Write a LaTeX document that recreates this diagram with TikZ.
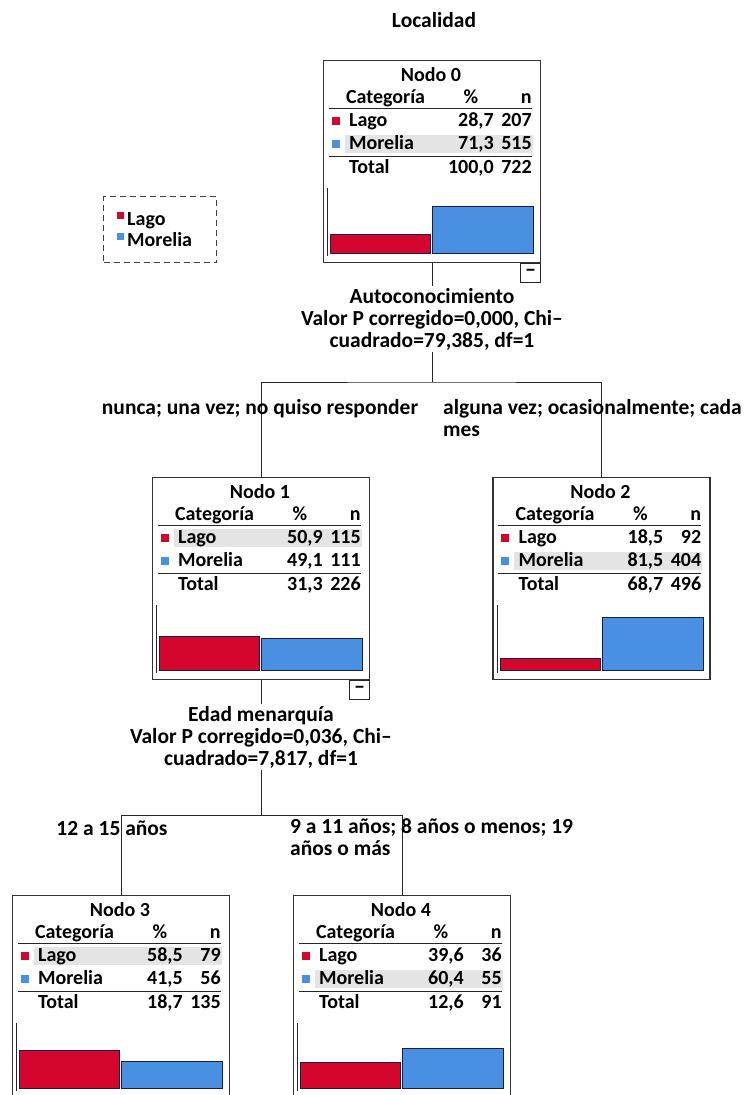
\documentclass[tikz,border=0pt]{standalone}
\usepackage{fontspec}
\setmainfont{Carlito}
\usetikzlibrary{positioning}

\definecolor{lagored}{RGB}{212,6,46}
\definecolor{moreliablue}{RGB}{74,144,226}
\definecolor{rowgrey}{RGB}{228,228,228}
\definecolor{barline}{RGB}{28,30,58}

% one tree node: name, top centre, number, Lago %, n, Morelia %, n, Total %, n
\newcommand{\treenode}[9]{%
  \node[treebox, anchor=north] (#1) at #2 {};
  \pgfmathsetmacro\hly{#4>#6 ? 52 : 75}
  \fill[rowgrey] ([shift={(22,\hly)}]#1.north west) rectangle ([shift={(210,{\hly+18})}]#1.north west);
  \node[celltext] (#1-title) at ([shift={(108,15)}]#1.north west) {Nodo #3};
  \node[celltext, anchor=base west] (#1-cat) at ([shift={(23,43)}]#1.north west) {Categoría};
  \node[celltext, anchor=base] (#1-pct) at ([shift={(148,43)}]#1.north west) {\%};
  \node[celltext, anchor=base east] (#1-n) at ([shift={(209,43)}]#1.north west) {n};
  \draw[tablerule] ([shift={(6,48)}]#1.north west) -- ([shift={(209,48)}]#1.north west);
  \fill[lagored] ([shift={(9,57)}]#1.north west) rectangle ++(8,8);
  \node[celltext, anchor=base west] (#1-lago) at ([shift={(26,66)}]#1.north west) {Lago};
  \node[celltext, anchor=base east] (#1-lagop) at ([shift={(171,66)}]#1.north west) {\pct{#4}};
  \node[celltext, anchor=base east] (#1-lagon) at ([shift={(209,66)}]#1.north west) {#5};
  \fill[moreliablue] ([shift={(9,80)}]#1.north west) rectangle ++(8,8);
  \node[celltext, anchor=base west] (#1-mor) at ([shift={(26,89)}]#1.north west) {Morelia};
  \node[celltext, anchor=base east] (#1-morp) at ([shift={(171,89)}]#1.north west) {\pct{#6}};
  \node[celltext, anchor=base east] (#1-morn) at ([shift={(209,89)}]#1.north west) {#7};
  \draw[tablerule] ([shift={(6,96)}]#1.north west) -- ([shift={(209,96)}]#1.north west);
  \node[celltext, anchor=base west] (#1-tot) at ([shift={(26,113)}]#1.north west) {Total};
  \node[celltext, anchor=base east] (#1-totp) at ([shift={(171,113)}]#1.north west) {\pct{#8}};
  \node[celltext, anchor=base east] (#1-totn) at ([shift={(209,113)}]#1.north west) {#9};
  % bar chart
  \draw[chartaxis] ([shift={(5,128)}]#1.north west) -- ([shift={(5,196)}]#1.north west);
  \filldraw[barbox, fill=lagored] ([shift={(8,{193-0.65*#4})}]#1.north west) rectangle ([shift={(108,193)}]#1.north west);
  \filldraw[barbox, fill=moreliablue] ([shift={(110,{193-0.65*#6})}]#1.north west) rectangle ([shift={(211,193)}]#1.north west);
}
\newcommand{\pct}[1]{\pgfmathprintnumber[fixed,precision=1,fixed zerofill,use comma,assume math mode=true]{#1}}

\tikzset{
  treebox/.style={draw=black!80, line width=1.2pt, minimum width=217pt, minimum height=202pt, inner sep=0pt},
  celltext/.style={font=\fontsize{20}{22}\selectfont\bfseries, inner sep=0pt},
  splittext/.style={font=\fontsize{21.5}{22}\selectfont\bfseries, align=center, inner sep=2pt},
  tablerule/.style={draw=black!85, line width=1pt},
  chartaxis/.style={draw=black!85, line width=1pt},
  barbox/.style={draw=barline, line width=0.9pt},
  branch/.style={draw=black!85, line width=1pt},
  collapse/.style={draw=black!85, line width=1pt, minimum width=20pt, minimum height=19pt, inner sep=0pt, font=\fontsize{22}{22}\selectfont\bfseries},
  legendbox/.style={draw=black!75, line width=1.2pt, dash pattern=on 6pt off 4pt, minimum width=113pt, minimum height=66pt, inner sep=0pt}
}

\begin{document}
\begin{tikzpicture}[x=1pt, y=-1pt]
  \useasboundingbox (0,0) rectangle (753,1095);
  \clip (0,0) rectangle (753,1095);

  % Title
  \node[splittext] (title) at (434,20) {Localidad};

  % Legend
  \node[legendbox, anchor=north west] (legend) at (103,196) {};
  \fill[lagored] ([shift={(14,16)}]legend.north west) rectangle ++(7,7);
  \node[celltext, anchor=base west] (leg-lago) at ([shift={(24,29)}]legend.north west) {Lago};
  \fill[moreliablue] ([shift={(14,37)}]legend.north west) rectangle ++(7,7);
  \node[celltext, anchor=base west] (leg-mor) at ([shift={(24,50)}]legend.north west) {Morelia};

  % Tree nodes
  \treenode{n0}{(432,60)}{0}{28.7}{207}{71.3}{515}{100.0}{722}
  \treenode{n1}{(261,477)}{1}{50.9}{115}{49.1}{111}{31.3}{226}
  \treenode{n2}{(601.5,477)}{2}{18.5}{92}{81.5}{404}{68.7}{496}
  \treenode{n3}{(121,895)}{3}{58.5}{79}{41.5}{56}{18.7}{135}
  \treenode{n4}{(402,895)}{4}{39.6}{36}{60.4}{55}{12.6}{91}

  \node[collapse, anchor=north east] (n0-c) at (n0.south east) {–};
  \node[collapse, anchor=north east] (n1-c) at (n1.south east) {–};

  % First split
  \node[splittext] (s0) at (432,319) {Autoconocimiento\\Valor P corregido=0,000, Chi–\\cuadrado=79,385, df=1};
  \coordinate (j0) at (432,382);
  \draw[branch] (n0.south) -- (s0.north);
  \draw[branch] (s0.south) -- (j0);
  \draw[branch] (n1.north) |- (j0) -| (n2.north);
  \node[splittext] (b1) at (260,409) {nunca; una vez; no quiso responder};
  \node[splittext, anchor=north west, align=left, inner sep=0pt] (b2) at (443,399) {alguna vez; ocasionalmente; cada\\mes};

  % Second split
  \node[splittext] (s1) at (261,737) {Edad menarquía\\Valor P corregido=0,036, Chi–\\cuadrado=7,817, df=1};
  \coordinate (j1) at (261,815);
  \draw[branch] (n1.south) -- (s1.north);
  \draw[branch] (s1.south) -- (j1);
  \draw[branch] (n3.north) |- (j1) -| (n4.north);
  \node[splittext] (b3) at (112,828) {12 a 15 años};
  \node[splittext, anchor=north west, align=left, inner sep=0pt] (b4) at (290,818) {9 a 11 años; 8 años o menos; 19\\años o más};
\end{tikzpicture}
\end{document}
